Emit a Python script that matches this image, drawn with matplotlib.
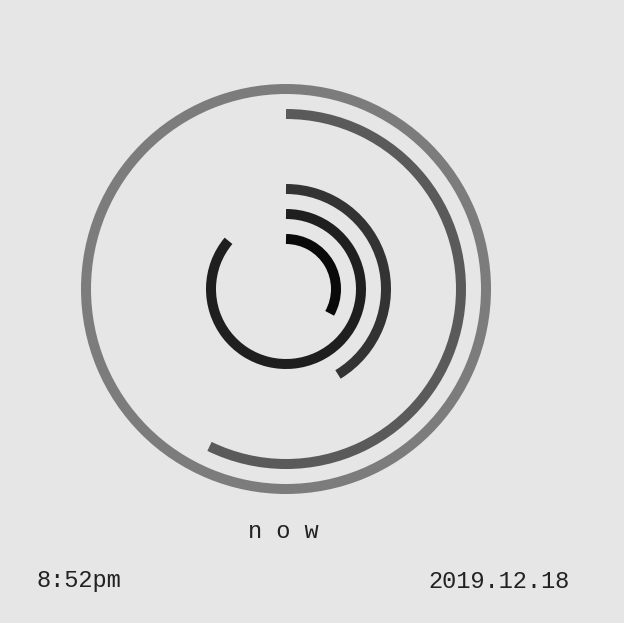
import matplotlib
matplotlib.use("Agg")
import matplotlib.pyplot as plt
from matplotlib.patches import Arc

# ring data, outermost first (fraction of a full turn, clockwise from 12 o'clock)
ring_names = ["month", "day", "slot3", "slot4", "weekday", "hour", "second"]
ring_fraction = [1.0, 0.572, 0.0, 0.0, 0.413, 0.861, 0.331]
ring_colors = ["#7c7c7c", "#5a5a5a", "#444444", "#3a3a3a", "#333333", "#1f1f1f", "#0a0a0a"]

title_text = "n o w"
time_text = "8:52pm"
date_text = "2019.12.18"

W, H = 624, 623
fig = plt.figure(figsize=(W / 100, H / 100), dpi=100)
fig.patch.set_facecolor("#e6e6e6")
ax = fig.add_axes([0, 0, 1, 1])
ax.set_xlim(0, W)
ax.set_ylim(0, H)
ax.set_aspect("equal")
ax.axis("off")

cx, cy = 286, H - 289
outer_r = 200
step = 25
lw_pt = 10 * 72 / 100

for i, (frac, col) in enumerate(zip(ring_fraction, ring_colors)):
    if frac <= 0:
        continue
    r = outer_r - step * i
    sweep = 360 * frac
    arc = Arc((cx, cy), 2 * r, 2 * r, angle=0,
              theta1=90 - sweep, theta2=90,
              color=col, lw=lw_pt, capstyle="butt")
    ax.add_patch(arc)

font = ["Liberation Mono", "DejaVu Sans Mono"]
ax.text(283, H - 532, title_text, ha="center", va="center",
        fontsize=17, family=font, color="#222222")
ax.text(37, H - 581, time_text, ha="left", va="center",
        fontsize=17, family=font, color="#222222")
ax.text(570, H - 581, date_text, ha="right", va="center",
        fontsize=17, family=font, color="#222222")

fig.savefig("out.png", dpi=100, facecolor=fig.get_facecolor())
